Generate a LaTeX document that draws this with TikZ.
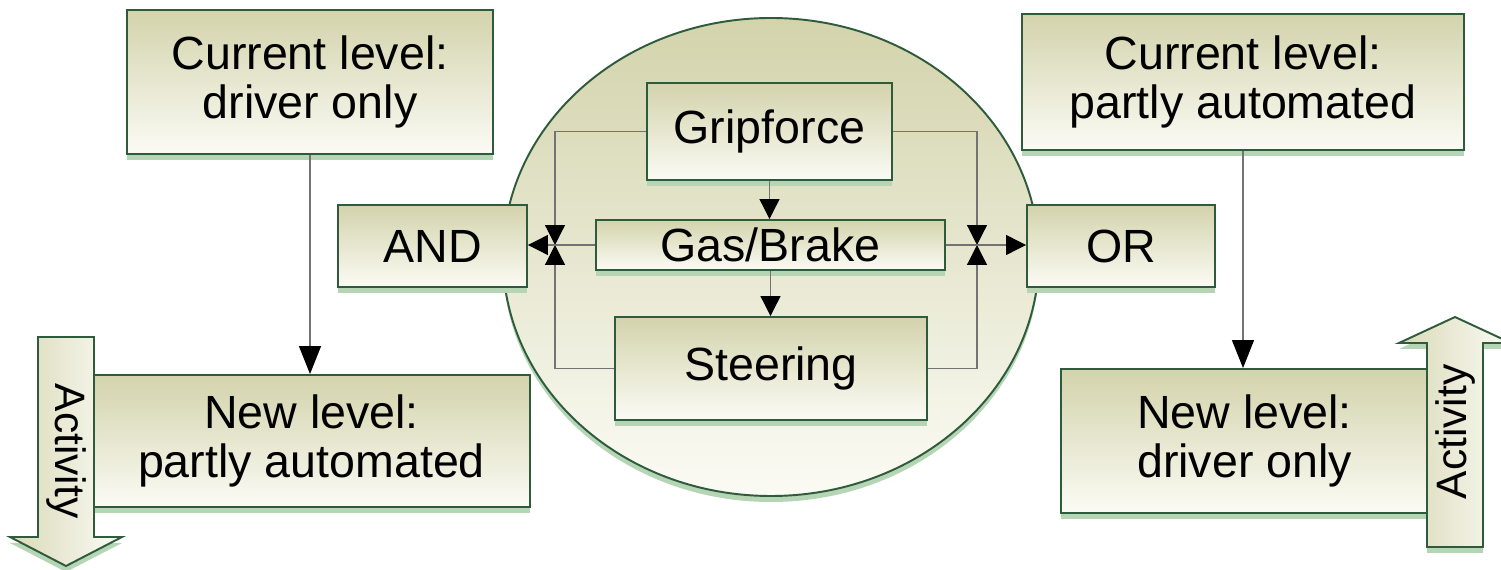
\documentclass[tikz,border=0pt]{standalone}
\usepackage{fontspec}
\setmainfont{Liberation Sans}
\usetikzlibrary{arrows.meta,shadows,shapes.geometric}
\definecolor{boxtop}{HTML}{D3D3AC}
\definecolor{boxbot}{HTML}{FBFBF5}
\definecolor{rim}{HTML}{2E5B3B}
\definecolor{shadegreen}{HTML}{B5D5B5}
\newcommand{\px}{0.02cm}

\tikzset{
  greenshadow/.style={drop shadow={shadow xshift=0pt, shadow yshift=-0.12cm, fill=shadegreen, opacity=1}},
  lvl/.style={draw=rim, line width=1.1pt, top color=boxtop, bottom color=boxbot, greenshadow,
    inner sep=0, align=center, font=\fontsize{26.5}{28}\selectfont},
  link/.style={draw=black!55, line width=0.7pt},
  tip/.style={-{Triangle[length=0.4cm, width=0.4cm, black]}},
  bigtip/.style={-{Triangle[length=0.56cm, width=0.44cm, black]}},
  actarrow/.style={draw=rim, line width=1.1pt, left color=boxtop!85!white, right color=boxbot, greenshadow},
  actlabel/.style={inner sep=0, font=\fontsize{24.2}{26}\selectfont}
}

\begin{document}
\begin{tikzpicture}[x=0.02cm, y=-0.02cm]
\useasboundingbox (0,0) rectangle (1501,570);

% central hub
\node[ellipse, draw=rim, line width=1.1pt, top color=boxtop, bottom color=boxbot, greenshadow,
      inner sep=0, minimum width=536*\px, minimum height=478*\px] (hub) at (771,257) {};

\node[lvl, minimum width=245*\px, minimum height=97*\px] (grip) at (769.5,131.5) {Gripforce};
\node[lvl, minimum width=349*\px, minimum height=50*\px] (gas) at (770.5,245) {Gas/Brake};
\node[lvl, minimum width=312*\px, minimum height=103*\px] (steer) at (771,368.5) {Steering};

\node[lvl, minimum width=189*\px, minimum height=82*\px] (and) at (432.5,246) {AND};
\node[lvl, minimum width=188*\px, minimum height=82*\px] (or) at (1121,246) {OR};

% levels
\node[lvl, minimum width=366*\px, minimum height=144*\px] (cur1) at (310,82) {Current level:\\driver only};
\node[lvl, minimum width=437*\px, minimum height=132*\px] (new1) at (311.5,441) {New level:\\partly automated};
\node[lvl, minimum width=442*\px, minimum height=136*\px] (cur2) at (1243,82) {Current level:\\partly automated};
\node[lvl, minimum width=367*\px, minimum height=144*\px] (new2) at (1244.5,441) {New level:\\driver only};

\coordinate (jl) at (555,245);
\coordinate (jr) at (977,245);

\draw[link,tip] (grip.west) -| (jl);
\draw[link,tip] (steer.west) -| (jl);
\draw[link,tip] (gas.west) -- (gas.west -| and.east);
\draw[link,tip] (grip.east) -| (jr);
\draw[link,tip] (steer.east) -| (jr);
\draw[link,tip] (gas.east) -- (gas.east -| or.west);
\draw[link,tip] (grip.south) -- (grip.south |- gas.north);
\draw[link,tip] (gas.south) -- (gas.south |- steer.north);

\draw[link,bigtip] (cur1.south) -- (cur1.south |- new1.north);
\draw[link,bigtip] (cur2.south) -- (cur2.south |- new2.north);

% activity arrows
\draw[actarrow] (38,337) -- (94,337) -- (94,537) -- (122,537) -- (66,566) -- (10,537) -- (38,537) -- cycle;
\node[actlabel, rotate=-90] (act1) at (66,451) {Activity};
\draw[actarrow] (1427,547) -- (1483,547) -- (1483,343) -- (1511,343) -- (1455,317) -- (1399,343) -- (1427,343) -- cycle;
\node[actlabel, rotate=90] (act2) at (1455,432) {Activity};

\end{tikzpicture}
\end{document}
